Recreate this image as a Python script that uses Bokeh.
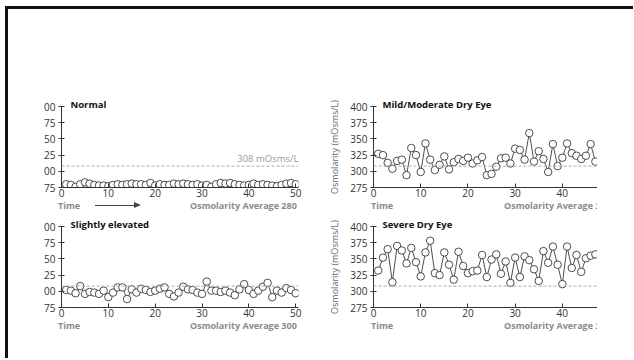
from bokeh.plotting import figure
from bokeh.models import Range1d, FixedTicker, Label, Span, Div, Spacer
from bokeh.layouts import column, row
from bokeh.embed import file_html
from bokeh.resources import INLINE

FONT = "Open Sans"

# ---- data ----
y_ticks = [275, 300, 325, 350, 375, 400]
y_tick_labels_cropped = ["75", "00", "25", "50", "75", "00"]
x_ticks_left = [0, 10, 20, 30, 40, 50]
x_ticks_right = [0, 10, 20, 30, 40]
threshold = 308

time_left = list(range(1, 51))
normal = [280, 279, 276, 280, 283, 281, 279, 278, 278, 277, 279, 280, 279, 280, 281,
          280, 280, 279, 282, 278, 280, 279, 279, 281, 280, 281, 280, 279, 280, 278,
          279, 276, 280, 282, 281, 282, 280, 279, 278, 279, 281, 279, 280, 279, 278,
          277, 279, 281, 282, 280]
slightly = [302, 301, 297, 308, 296, 299, 298, 296, 301, 291, 298, 306, 306, 288, 303,
            298, 304, 302, 299, 301, 304, 306, 296, 292, 298, 307, 303, 302, 298, 296,
            315, 301, 301, 299, 301, 298, 294, 303, 311, 302, 296, 301, 307, 313, 291,
            301, 298, 305, 302, 297]

time_right = list(range(1, 48))
mild = [327, 325, 313, 304, 316, 318, 294, 336, 325, 299, 343, 318, 302, 310, 323,
        303, 314, 319, 316, 321, 312, 317, 322, 294, 296, 307, 320, 321, 312, 335,
        333, 318, 359, 315, 331, 319, 299, 342, 308, 321, 343, 328, 324, 319, 324,
        342, 315]
severe = [332, 352, 365, 314, 370, 363, 343, 367, 345, 323, 360, 378, 328, 325, 360,
          341, 318, 361, 339, 328, 331, 332, 356, 322, 349, 357, 327, 346, 313, 352,
          322, 354, 348, 334, 316, 362, 344, 369, 341, 311, 369, 336, 356, 330, 351,
          355, 357]

titles = ["Normal", "Slightly elevated", "Mild/Moderate Dry Eye", "Severe Dry Eye"]
averages = ["Osmolarity Average 280", "Osmolarity Average 300",
            "Osmolarity Average 320", "Osmolarity Average 340"]
threshold_label = "308 mOsms/L"
y_axis_title = "Osmolarity (mOsms/L)"
time_label = "Time"

INK = "#222222"
GREY = "#8a8a8a"


def panel(t, v, title, left, top, show_thr_label=False):
    if left:
        xr = Range1d(0, 50.6)
        fw, mbl, mbr = 237, 53, 10
        xt = x_ticks_left
    else:
        xr = Range1d(0, 47.45)
        fw, mbl, mbr = 224, 65, 0
        xt = x_ticks_right
    p = figure(frame_width=fw, frame_height=81, x_range=xr, y_range=Range1d(275, 400),
               toolbar_location=None, output_backend="svg",
               min_border_left=mbl, min_border_right=mbr,
               min_border_top=97 if top else 14, min_border_bottom=13)
    p.outline_line_color = None
    p.grid.visible = False
    p.background_fill_color = "white"
    p.border_fill_color = "white"

    p.title.text = title
    p.title.align = "left"
    p.title.offset = 9
    p.title.standoff = -8
    p.title.text_font = FONT
    p.title.text_font_size = "9.5px"
    p.title.text_font_style = "bold"
    p.title.text_color = "#111111"

    p.xaxis.ticker = FixedTicker(ticks=xt)
    p.yaxis.ticker = FixedTicker(ticks=y_ticks)
    for ax in (p.xaxis, p.yaxis):
        ax.axis_line_color = "#333333"
        ax.major_tick_line_color = "#333333"
        ax.minor_tick_line_color = None
        ax.major_label_text_font = FONT
        ax.major_label_text_font_size = "10px"
        ax.major_label_text_color = "#333333"
    p.xaxis.major_tick_in = 4
    p.xaxis.major_tick_out = 0
    p.xaxis.major_label_standoff = 1
    p.yaxis.major_tick_in = 3
    p.yaxis.major_tick_out = 3
    p.yaxis.major_label_standoff = 3
    if left:
        p.yaxis.major_label_overrides = {k: s for k, s in zip(y_ticks, y_tick_labels_cropped)}
    else:
        p.yaxis.axis_label = y_axis_title
        p.yaxis.axis_label_text_font = FONT
        p.yaxis.axis_label_text_font_style = "normal"
        p.yaxis.axis_label_text_font_size = "9px"
        p.yaxis.axis_label_text_color = "#666666"
        p.yaxis.axis_label_standoff = 6

    p.add_layout(Span(location=threshold, dimension="width", line_color="#aaaaaa",
                      line_dash="3 2", line_width=1))

    p.line(t, v, line_color=INK, line_width=0.8)
    p.scatter(t, v, marker="circle", size=7.5, fill_color="white",
              line_color=INK, line_width=0.8)

    if show_thr_label:
        p.add_layout(Label(x=50.6, y=threshold, y_offset=1, text=threshold_label,
                           text_font=FONT, text_font_size="9.5px", text_color="#999999",
                           text_align="right", text_baseline="bottom"))
    return p


def footer(avg, left, arrow=False):
    width = 300 if left else 289
    time_left_px = 50 if left else 63
    avg_left_px = 182 if left else 196
    arrow_html = ""
    if arrow:
        arrow_html = (
            '<span style="position:absolute;left:87px;top:5px;width:40px;height:1px;'
            'background:#444;"></span>'
            '<span style="position:absolute;left:126px;top:2px;width:0;height:0;'
            'border-top:3px solid transparent;border-bottom:3px solid transparent;'
            'border-left:7px solid #444;"></span>'
        )
    html = (
        f'<div style="position:relative;width:{width}px;height:12px;overflow:hidden;'
        f'font-family:\'{FONT}\';font-size:9px;font-weight:bold;color:{GREY};'
        f'line-height:11px;white-space:nowrap;">'
        f'<span style="position:absolute;left:{time_left_px}px;top:0;">{time_label}</span>'
        f'{arrow_html}'
        f'<span style="position:absolute;left:{avg_left_px}px;top:0;">{avg}</span>'
        f'</div>'
    )
    return Div(text=html, width=width, height=12, margin=0)


p1 = panel(time_left, normal, titles[0], True, True, show_thr_label=True)
p2 = panel(time_right, mild, titles[2], False, True)
p3 = panel(time_left, slightly, titles[1], True, False)
p4 = panel(time_right, severe, titles[3], False, False)

f1 = footer(averages[0], True, arrow=True)
f2 = footer(averages[2], False)
f3 = footer(averages[1], True)
f4 = footer(averages[3], False)

grid = column(row(column(p1, f1), column(p2, f2), Spacer(width=36, height=10)),
              row(column(p3, f3), column(p4, f4)),
              Spacer(width=10, height=26))
root = column(grid, margin=(6, 0, 0, 5),
              styles={"border-top": "3px solid #111111",
                      "border-left": "3px solid #111111"})

open("out.html", "w").write(file_html(root, INLINE))
